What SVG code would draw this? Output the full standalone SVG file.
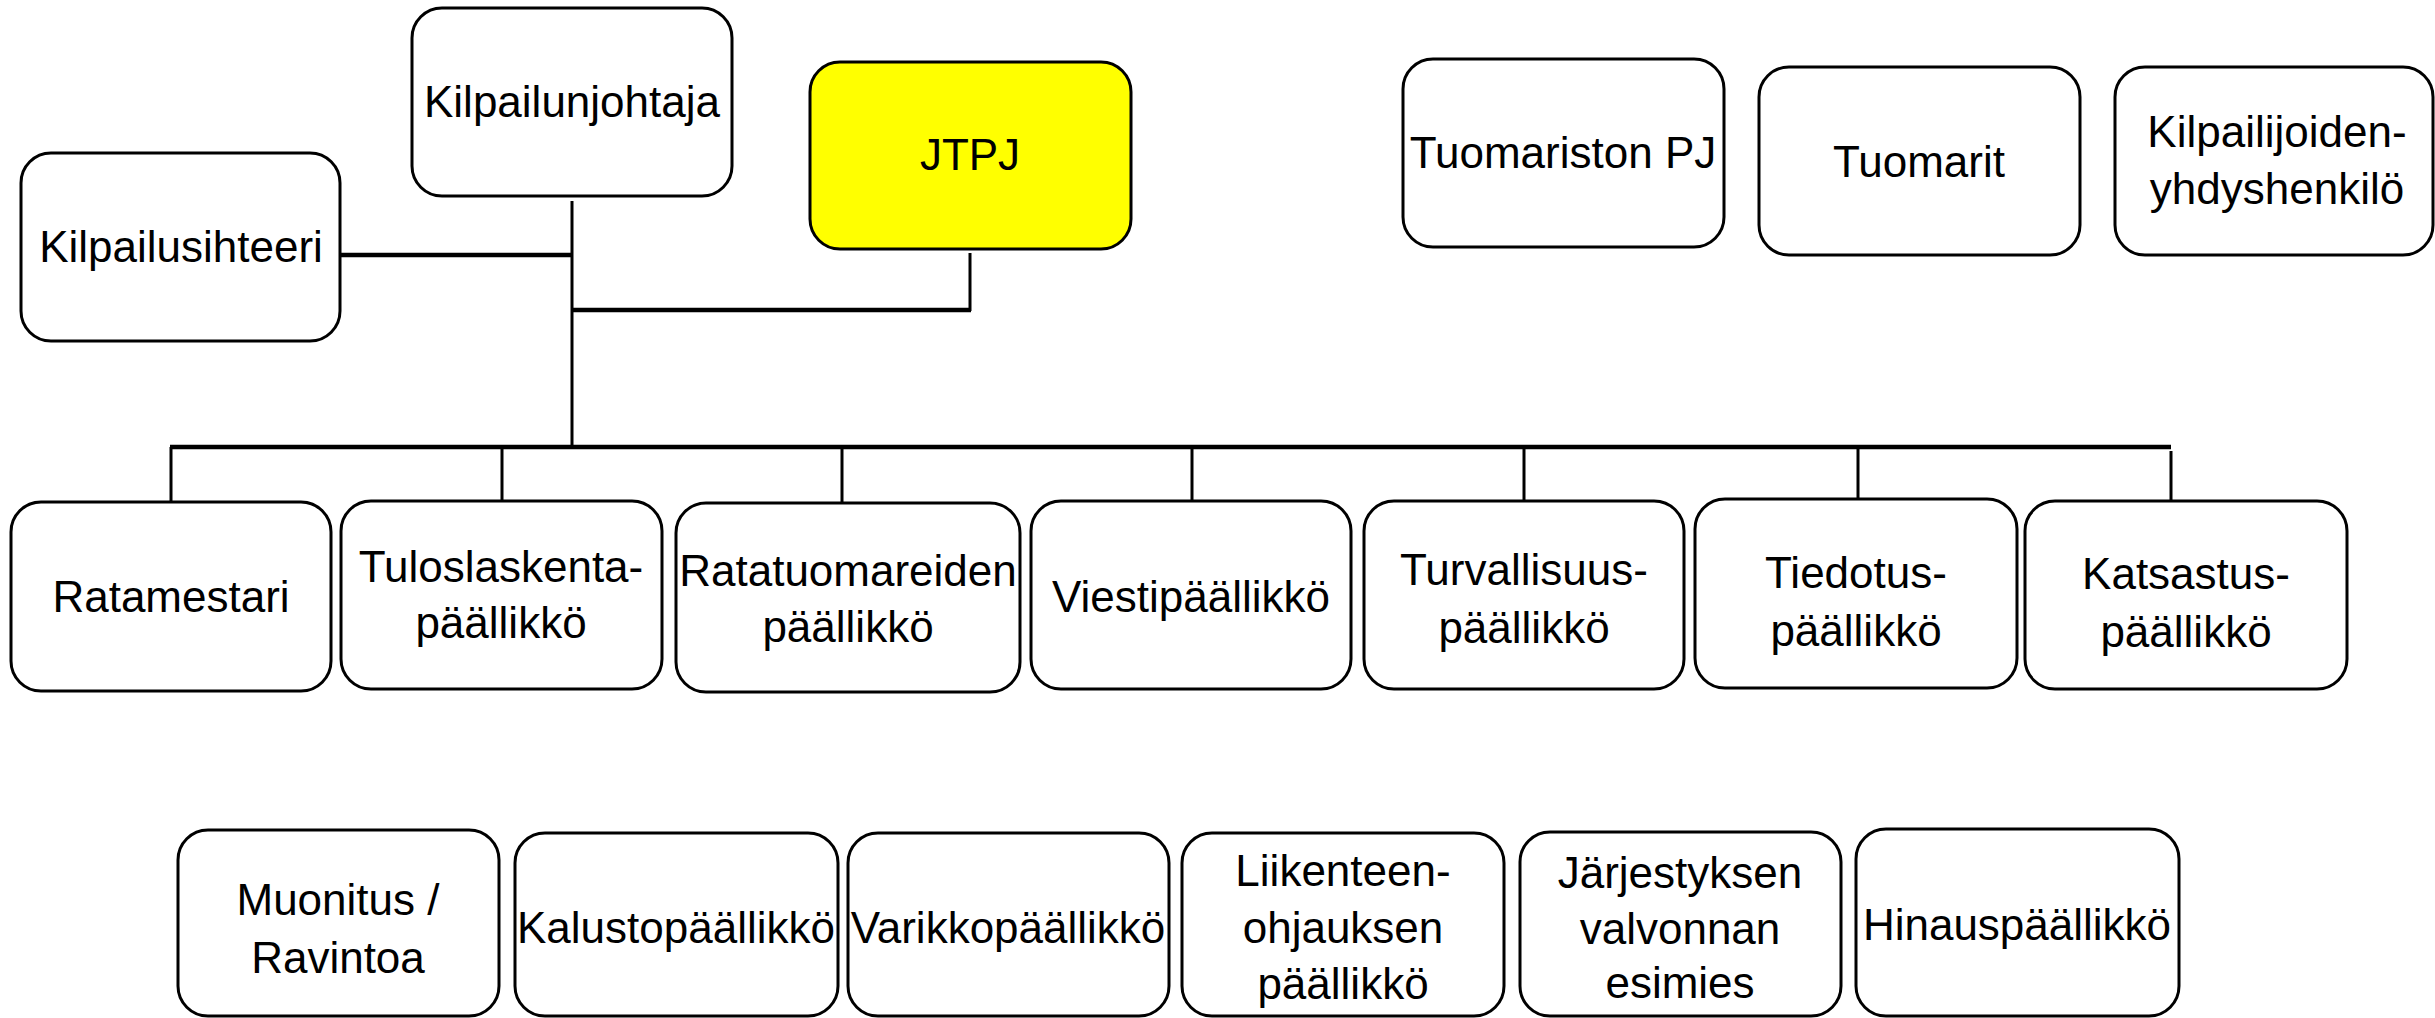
<svg xmlns="http://www.w3.org/2000/svg" width="2435" height="1018" viewBox="0 0 2435 1018">
<style>
.box{fill:#ffffff;stroke:#000000;stroke-width:3}
.yel{fill:#ffff00;stroke:#000000;stroke-width:3}
.t{font-family:"Liberation Sans",Arial,sans-serif;font-size:44px;fill:#000000;text-anchor:middle}
.c{stroke:#000000;stroke-width:3;fill:none}
.ct{stroke:#000000;stroke-width:4.5;fill:none}
</style>
<rect width="2435" height="1018" fill="#ffffff"/>
<g id="connectors">
<line class="c" x1="572" y1="201" x2="572" y2="446"/>
<line class="ct" x1="340" y1="255" x2="572" y2="255"/>
<line class="c" x1="970" y1="253" x2="970" y2="311"/>
<line class="ct" x1="572" y1="310" x2="971" y2="310"/>
<line class="ct" x1="170" y1="447" x2="2171" y2="447"/>
<line class="c" x1="171" y1="447" x2="171" y2="502"/>
<line class="c" x1="502" y1="447" x2="502" y2="503"/>
<line class="c" x1="842" y1="447" x2="842" y2="503"/>
<line class="c" x1="1192" y1="449" x2="1192" y2="503"/>
<line class="c" x1="1524" y1="449" x2="1524" y2="506"/>
<line class="c" x1="1858" y1="447" x2="1858" y2="503"/>
<line class="c" x1="2171" y1="451" x2="2171" y2="507"/>
</g>
<g id="kilpailunjohtaja"><rect class="box" x="412" y="8" width="320" height="188" rx="30"/><text class="t" x="572" y="117">Kilpailunjohtaja</text></g>
<g id="jtpj"><rect class="yel" x="810" y="62" width="321" height="187" rx="30"/><text class="t" x="970" y="170">JTPJ</text></g>
<g id="kilpailusihteeri"><rect class="box" x="21" y="153" width="319" height="188" rx="30"/><text class="t" x="181" y="262">Kilpailusihteeri</text></g>
<g id="tuomariston-pj"><rect class="box" x="1403" y="59" width="321" height="188" rx="30"/><text class="t" x="1563" y="168">Tuomariston PJ</text></g>
<g id="tuomarit"><rect class="box" x="1759" y="67" width="321" height="188" rx="30"/><text class="t" x="1919" y="177">Tuomarit</text></g>
<g id="kilpailijoiden"><rect class="box" x="2115" y="67" width="318" height="188" rx="30"/><text class="t" x="2277" y="147">Kilpailijoiden-</text><text class="t" x="2277" y="204">yhdyshenkilö</text></g>
<g id="ratamestari"><rect class="box" x="11" y="502" width="320" height="189" rx="30"/><text class="t" x="171" y="612">Ratamestari</text></g>
<g id="tuloslaskenta"><rect class="box" x="341" y="501" width="321" height="188" rx="30"/><text class="t" x="501" y="582">Tuloslaskenta-</text><text class="t" x="501" y="638">päällikkö</text></g>
<g id="ratatuomareiden"><rect class="box" x="676" y="503" width="344" height="189" rx="30"/><text class="t" x="848" y="586">Ratatuomareiden</text><text class="t" x="848" y="642">päällikkö</text></g>
<g id="viesti"><rect class="box" x="1031" y="501" width="320" height="188" rx="30"/><text class="t" x="1191" y="612">Viestipäällikkö</text></g>
<g id="turvallisuus"><rect class="box" x="1364" y="501" width="320" height="188" rx="30"/><text class="t" x="1524" y="585">Turvallisuus-</text><text class="t" x="1524" y="643">päällikkö</text></g>
<g id="tiedotus"><rect class="box" x="1695" y="499" width="322" height="189" rx="30"/><text class="t" x="1856" y="588">Tiedotus-</text><text class="t" x="1856" y="646">päällikkö</text></g>
<g id="katsastus"><rect class="box" x="2025" y="501" width="322" height="188" rx="30"/><text class="t" x="2186" y="589">Katsastus-</text><text class="t" x="2186" y="647">päällikkö</text></g>
<g id="muonitus"><rect class="box" x="178" y="830" width="321" height="186" rx="30"/><text class="t" x="338" y="915">Muonitus /</text><text class="t" x="338" y="973">Ravintoa</text></g>
<g id="kalusto"><rect class="box" x="515" y="833" width="323" height="183" rx="30"/><text class="t" x="676" y="943">Kalustopäällikkö</text></g>
<g id="varikko"><rect class="box" x="848" y="833" width="321" height="183" rx="30"/><text class="t" x="1008" y="943">Varikkopäällikkö</text></g>
<g id="liikenne"><rect class="box" x="1182" y="833" width="322" height="183" rx="30"/><text class="t" x="1343" y="886">Liikenteen-</text><text class="t" x="1343" y="943">ohjauksen</text><text class="t" x="1343" y="999">päällikkö</text></g>
<g id="jarjestys"><rect class="box" x="1520" y="832" width="321" height="184" rx="30"/><text class="t" x="1680" y="888">Järjestyksen</text><text class="t" x="1680" y="944">valvonnan</text><text class="t" x="1680" y="998">esimies</text></g>
<g id="hinaus"><rect class="box" x="1856" y="829" width="323" height="187" rx="30"/><text class="t" x="2017" y="940">Hinauspäällikkö</text></g>
</svg>
